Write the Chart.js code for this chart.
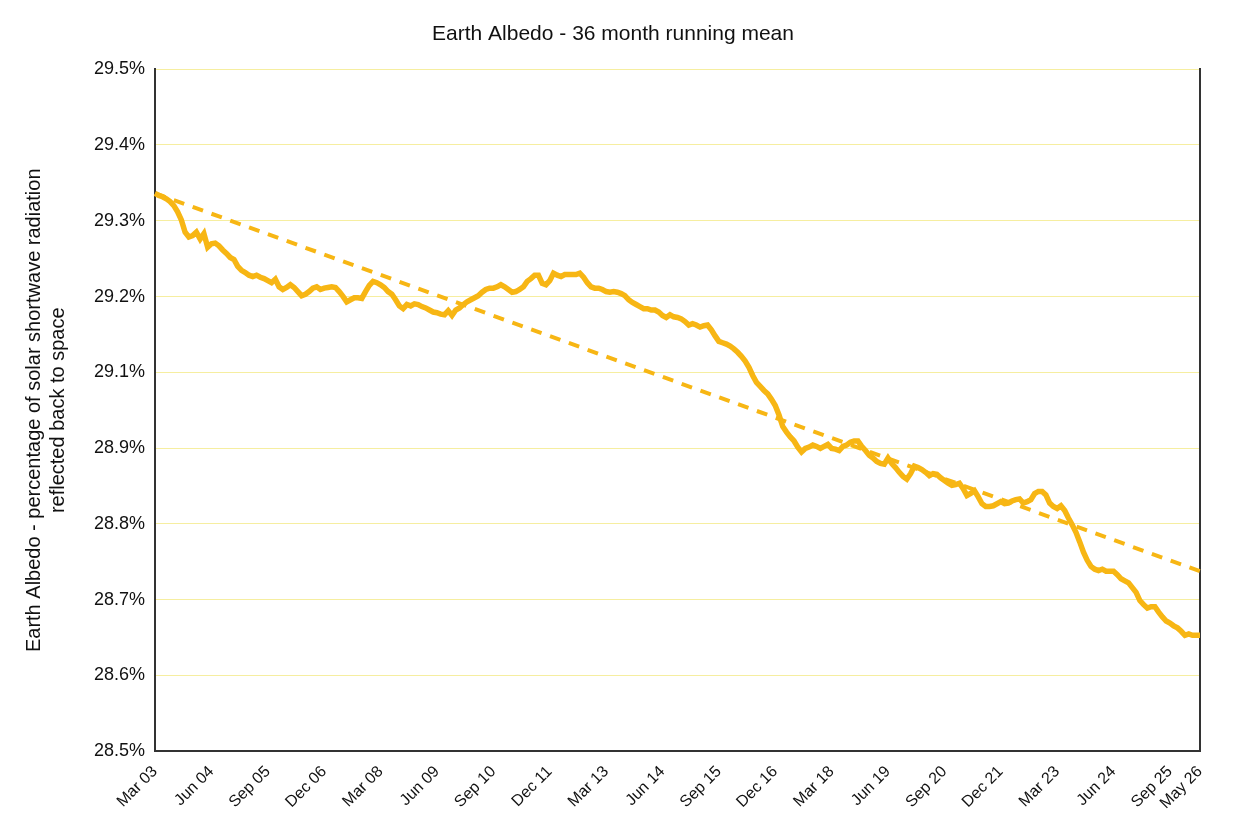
<!DOCTYPE html>
<html>
<head>
<meta charset="utf-8">
<script src="https://cdn.jsdelivr.net/npm/chart.js@4/dist/chart.umd.min.js"></script>
<style>
  body { margin: 0; background: #fff; }
</style>
</head>
<body>
<canvas id="c" width="1234" height="822"></canvas>
<script>
// Monthly 36-month running mean, Mar 2003 .. May 2026 (279 months)
const albedo = [
  29.318, 29.315, 29.313, 29.310, 29.306, 29.300, 29.291, 29.279, 29.261, 29.254,
  29.256, 29.261, 29.251, 29.259, 29.239, 29.244, 29.245, 29.241, 29.235, 29.230,
  29.224, 29.221, 29.211, 29.205, 29.202, 29.198, 29.196, 29.198, 29.195, 29.193,
  29.190, 29.187, 29.192, 29.181, 29.177, 29.180, 29.184, 29.180, 29.174, 29.168,
  29.170, 29.174, 29.179, 29.181, 29.177, 29.179, 29.180, 29.181, 29.180, 29.174,
  29.167, 29.159, 29.162, 29.165, 29.165, 29.164, 29.174, 29.183, 29.189, 29.187,
  29.184, 29.180, 29.174, 29.170, 29.162, 29.153, 29.149, 29.155, 29.153, 29.156,
  29.155, 29.152, 29.150, 29.147, 29.144, 29.143, 29.141, 29.140, 29.146, 29.139,
  29.147, 29.150, 29.155, 29.159, 29.162, 29.165, 29.168, 29.173, 29.177, 29.179,
  29.179, 29.181, 29.184, 29.181, 29.177, 29.173, 29.174, 29.177, 29.181, 29.189,
  29.193, 29.198, 29.198, 29.186, 29.184, 29.190, 29.201, 29.198, 29.196, 29.199,
  29.199, 29.199, 29.199, 29.201, 29.195, 29.187, 29.181, 29.179, 29.179, 29.177,
  29.174, 29.173, 29.174, 29.173, 29.171, 29.168, 29.162, 29.158, 29.155, 29.152,
  29.149, 29.149, 29.147, 29.147, 29.144, 29.139, 29.136, 29.140, 29.137, 29.136,
  29.134, 29.130, 29.125, 29.127, 29.125, 29.122, 29.124, 29.125, 29.118, 29.109,
  29.101, 29.099, 29.097, 29.094, 29.090, 29.085, 29.079, 29.072, 29.063, 29.051,
  29.041, 29.035, 29.029, 29.024, 29.016, 29.007, 28.993, 28.976, 28.968, 28.961,
  28.955, 28.946, 28.939, 28.944, 28.946, 28.949, 28.947, 28.944, 28.947, 28.950,
  28.944, 28.943, 28.941, 28.947, 28.949, 28.953, 28.955, 28.955, 28.947, 28.941,
  28.934, 28.930, 28.925, 28.922, 28.921, 28.930, 28.922, 28.916, 28.909, 28.903,
  28.899, 28.907, 28.918, 28.916, 28.913, 28.909, 28.904, 28.907, 28.906, 28.901,
  28.897, 28.893, 28.890, 28.891, 28.893, 28.885, 28.875, 28.878, 28.882, 28.873,
  28.863, 28.859, 28.859, 28.860, 28.863, 28.866, 28.863, 28.864, 28.867, 28.869,
  28.870, 28.864, 28.866, 28.869, 28.878, 28.881, 28.881, 28.876, 28.864, 28.859,
  28.856, 28.860, 28.853, 28.842, 28.832, 28.821, 28.807, 28.792, 28.780, 28.771,
  28.767, 28.765, 28.767, 28.764, 28.764, 28.764, 28.759, 28.753, 28.750, 28.747,
  28.740, 28.733, 28.721, 28.715, 28.710, 28.712, 28.712, 28.704, 28.697, 28.691,
  28.688, 28.684, 28.681, 28.676, 28.670, 28.672, 28.670, 28.670, 28.670
]
// Linear trend endpoints (first and last month)
const trendStart = 29.318
const trendEnd = 28.764

const xTickLabels = ['Mar 03', 'Jun 04', 'Sep 05', 'Dec 06', 'Mar 08', 'Jun 09', 'Sep 10',
  'Dec 11', 'Mar 13', 'Jun 14', 'Sep 15', 'Dec 16', 'Mar 18', 'Jun 19', 'Sep 20',
  'Dec 21', 'Mar 23', 'Jun 24', 'Sep 25', 'May 26']
const yTickLabels = ['28.5%', '28.6%', '28.7%', '28.8%', '28.9%', '29.1%', '29.2%', '29.3%', '29.4%', '29.5%']

const monthNames = ['Jan', 'Feb', 'Mar', 'Apr', 'May', 'Jun', 'Jul', 'Aug', 'Sep', 'Oct', 'Nov', 'Dec']
const labels = albedo.map((_, i) => {
  const m = 2 + i
  const yr = 3 + Math.floor(m / 12)
  return monthNames[m % 12] + ' ' + String(yr).padStart(2, '0')
})
const trend = albedo.map((_, i) => i === 0 ? trendStart : (i === albedo.length - 1 ? trendEnd : null))

const font = 'Helvetica, "Liberation Sans", Arial, sans-serif'

new Chart(document.getElementById('c'), {
  type: 'line',
  data: {
    labels: labels,
    datasets: [{
      data: albedo,
      borderColor: '#f7b614',
      borderWidth: 5.5,
      pointRadius: 0,
      tension: 0
    }, {
      data: trend,
      borderColor: '#f7b614',
      borderWidth: 4,
      borderDash: [11, 9],
      pointRadius: 0,
      spanGaps: true
    }]
  },
  options: {
    responsive: false,
    animation: false,
    layout: { padding: { top: 14, right: 26, left: 18, bottom: 6 } },
    plugins: {
      legend: { display: false },
      tooltip: { enabled: false },
      title: {
        display: true,
        text: 'Earth Albedo - 36 month running mean',
        color: '#111',
        font: { family: font, size: 21, weight: 'normal' },
        padding: { top: 8, bottom: 22 }
      }
    },
    scales: {
      x: {
        offset: false,
        grid: { display: false },
        border: { color: '#333', width: 2 },
        ticks: {
          autoSkip: false,
          maxRotation: 45,
          minRotation: 45,
          color: '#111',
          font: { family: font, size: 16 },
          callback: function (v, i) {
            const l = labels[i]
            return xTickLabels.includes(l) ? l : null
          }
        }
      },
      y: {
        min: 28.5,
        max: 29.5,
        afterBuildTicks: (axis) => {
          axis.ticks = yTickLabels.map((_, k) => ({ value: 28.5 + k / 9 }))
        },
        grid: { color: '#f6eea0', lineWidth: 1, drawTicks: false },
        border: { color: '#333', width: 2 },
        ticks: {
          color: '#111',
          padding: 10,
          font: { family: font, size: 18 },
          callback: (v, i) => yTickLabels[i]
        },
        title: {
          display: true,
          text: ['Earth Albedo - percentage of solar shortwave radiation', 'reflected back to space'],
          color: '#111',
          font: { family: font, size: 20 },
          padding: { bottom: 14 }
        }
      },
      y2: {
        position: 'right',
        min: 28.5,
        max: 29.5,
        grid: { display: false },
        border: { color: '#333', width: 2 },
        ticks: { display: false }
      }
    }
  }
})
</script>
</body>
</html>
